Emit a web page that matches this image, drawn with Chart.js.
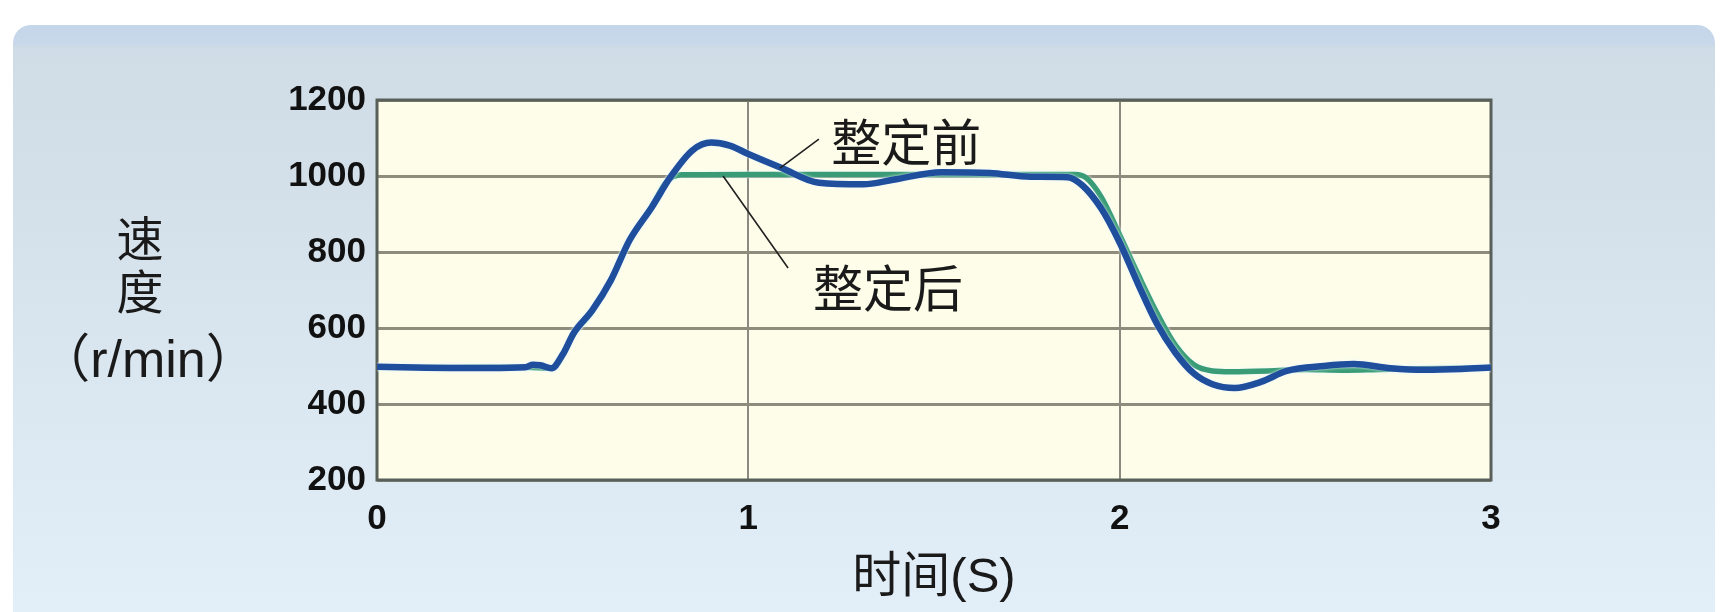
<!DOCTYPE html>
<html>
<head>
<meta charset="utf-8">
<script src="https://cdn.jsdelivr.net/npm/chart.js@4.4.1/dist/chart.umd.min.js"></script>
<style>
    html, body { margin: 0; padding: 0; background: #ffffff; width: 1724px; height: 612px; overflow: hidden; }
    #panel {
        position: absolute; left: 13px; top: 25px; width: 1702px; height: 620px;
        border-radius: 18px 18px 0 0;
        background: linear-gradient(to bottom, #c5d6ea 0px, #c8d8ea 18px, #d0dce6 24px, #d4e0e9 160px, #dbe7f1 380px, #e3eff9 100%);
    }
    #speedChart { position: absolute; left: 0; top: 0; }
</style>
</head>
<body>
<div id="panel"></div>
<canvas id="speedChart" width="1724" height="612"></canvas>
<script>
// time in seconds, speed in r/min
const timeBefore = [0, 0.1, 0.2, 0.3, 0.4, 0.42, 0.44, 0.47, 0.5, 0.53, 0.58, 0.63, 0.68, 0.74, 0.79, 0.85, 0.9, 0.95, 1.0, 1.09, 1.19, 1.31, 1.39, 1.52, 1.65, 1.76, 1.86, 1.9, 1.95, 2.0, 2.05, 2.1, 2.15, 2.2, 2.25, 2.31, 2.38, 2.45, 2.55, 2.63, 2.73, 2.82, 2.92, 3.0];
const speedBefore = [498, 496, 495, 495, 497, 503, 502, 494, 530, 587, 647, 726, 831, 918, 997, 1068, 1088, 1080, 1058, 1021, 982, 978, 990, 1010, 1008, 998, 997, 975, 915, 825, 715, 612, 535, 480, 452, 442, 458, 487, 500, 505, 494, 490, 492, 496];

const timeAfter = [0, 0.2, 0.4, 0.47, 0.53, 0.58, 0.63, 0.68, 0.74, 0.78, 0.82, 1.0, 1.5, 1.88, 1.91, 1.95, 2.0, 2.05, 2.1, 2.15, 2.2, 2.25, 2.3, 2.4, 2.5, 2.6, 2.7, 2.8, 3.0];
const speedAfter = [498, 496, 497, 494, 585, 645, 725, 830, 920, 985, 1003, 1004, 1004, 1004, 995, 945, 845, 740, 640, 555, 503, 487, 485, 487, 491, 489, 491, 493, 495];

const xTicks = [0, 1, 2, 3];
const yTicks = [200, 400, 600, 800, 1000, 1200];
const seriesNames = ['整定前', '整定后'];
const yTitle = ['速', '度', '（r/min）'];
const xTitle = '时间(S)';

const toPoints = (xs, ys) => xs.map((x, i) => ({ x: x, y: ys[i] }));

// plot background + frame
const plotFrame = {
    id: 'plotFrame',
    beforeDraw(chart) {
        const { ctx, chartArea: a } = chart;
        ctx.save();
        ctx.fillStyle = '#fdfdea';
        ctx.fillRect(a.left, a.top, a.right - a.left, a.bottom - a.top);
        ctx.restore();
    },
    beforeDatasetsDraw(chart) {
        const { ctx, chartArea: a } = chart;
        ctx.save();
        ctx.strokeStyle = '#596059';
        ctx.lineWidth = 3;
        ctx.strokeRect(a.left, a.top, a.right - a.left, a.bottom - a.top);
        ctx.restore();
    },
    beforeDatasetDraw(chart) {
        chart.ctx.save();
        chart.ctx.shadowColor = 'rgba(235, 248, 255, 0.95)';
        chart.ctx.shadowBlur = 3;
    },
    afterDatasetDraw(chart) {
        chart.ctx.restore();
    }
};

// y title (horizontal, stacked) and the two callouts
const labelsPlugin = {
    id: 'labelsPlugin',
    afterDraw(chart) {
        const { ctx, scales } = chart;
        const x = scales.x, y = scales.y;
        ctx.save();
        ctx.fillStyle = '#1a1a1a';
        ctx.textAlign = 'center';
        ctx.textBaseline = 'middle';
        ctx.font = '47px "Noto Sans CJK SC"';
        ctx.fillText(yTitle[0], 140, 238);
        ctx.fillText(yTitle[1], 140, 291);
        ctx.font = '52px "Liberation Sans", "Noto Sans CJK SC"';
        ctx.fillText(yTitle[2], 148, 363);

        // callouts placed in data units
        ctx.font = '50px "Noto Sans CJK SC"';
        ctx.fillText(seriesNames[0], x.getPixelForValue(1.425), y.getPixelForValue(1089));
        ctx.fillText(seriesNames[1], x.getPixelForValue(1.376), y.getPixelForValue(705));
        ctx.strokeStyle = '#222222';
        ctx.lineWidth = 1.6;
        ctx.beginPath();
        ctx.moveTo(x.getPixelForValue(1.19), y.getPixelForValue(1097));
        ctx.lineTo(x.getPixelForValue(1.085), y.getPixelForValue(1021));
        ctx.moveTo(x.getPixelForValue(0.932), y.getPixelForValue(1000));
        ctx.lineTo(x.getPixelForValue(1.107), y.getPixelForValue(758));
        ctx.stroke();
        ctx.restore();
    }
};

const speedChart = new Chart(document.getElementById('speedChart').getContext('2d'), {
    type: 'line',
    data: {
        datasets: [{
            label: seriesNames[0],
            data: toPoints(timeBefore, speedBefore),
            borderColor: '#1f4e9c',
            borderWidth: 6.5,
            pointRadius: 0,
            cubicInterpolationMode: 'monotone',
            order: 1,
        }, {
            label: seriesNames[1],
            data: toPoints(timeAfter, speedAfter),
            borderColor: '#3a9c76',
            borderWidth: 5.5,
            pointRadius: 0,
            cubicInterpolationMode: 'monotone',
            order: 2,
        }]
    },
    options: {
        responsive: false,
        animation: false,
        layout: { padding: { left: 0, top: 100, right: 233, bottom: 0 } },
        scales: {
            x: {
                type: 'linear',
                min: 0,
                max: 3,
                afterBuildTicks: (scale) => { scale.ticks = xTicks.map(v => ({ value: v })); },
                afterFit: (scale) => { scale.height = 132; },
                grid: { color: '#8a8a82', lineWidth: 2, drawTicks: false },
                border: { display: false },
                ticks: {
                    padding: 18,
                    color: '#111111',
                    font: { family: '"Liberation Sans", Arial', size: 35, weight: 'bold' },
                    callback: (v) => String(v),
                },
                title: {
                    display: true,
                    text: xTitle,
                    color: '#1a1a1a',
                    font: { family: '"Liberation Sans", "Noto Sans CJK SC"', size: 49 },
                    padding: { top: 0, bottom: 4 },
                },
            },
            y: {
                min: 200,
                max: 1200,
                afterBuildTicks: (scale) => { scale.ticks = yTicks.map(v => ({ value: v })); },
                afterFit: (scale) => { scale.width = 377; },
                grid: { color: '#8e8c7c', lineWidth: 3, drawTicks: false },
                border: { display: false },
                ticks: {
                    padding: 11,
                    color: '#111111',
                    font: { family: '"Liberation Sans", Arial', size: 35, weight: 'bold' },
                    callback: (v) => String(v),
                },
            },
        },
        plugins: {
            legend: { display: false },
            tooltip: { enabled: false },
        },
    },
    plugins: [plotFrame, labelsPlugin],
});
</script>
</body>
</html>
